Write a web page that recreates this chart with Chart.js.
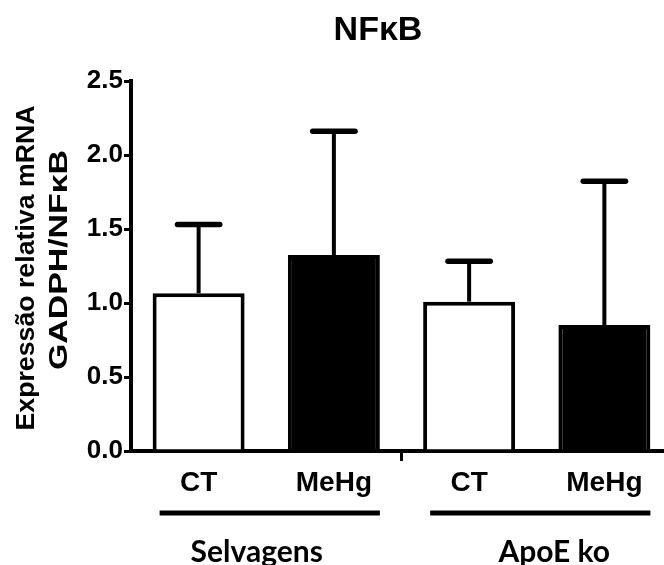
<!DOCTYPE html>
<html><head><meta charset="utf-8">
<script src="https://cdn.jsdelivr.net/npm/chart.js@4/dist/chart.umd.min.js"></script>
<style>html,body{margin:0;padding:0;background:#fff;overflow:hidden;width:664px;height:565px}canvas{display:block}</style>
</head><body>
<canvas id="c" width="680" height="565" style="width:680px;height:565px"></canvas>
<script>
const chartTitle = 'NFκB';
const categories = ['CT', 'MeHg', 'CT', 'MeHg'];
const groups = ['Selvagens', 'ApoE ko'];
const means = [1.066, 1.324, 1.009, 0.851];
const errors = [0.464, 0.837, 0.273, 0.972];
const barColors = ['#ffffff', '#000000', '#ffffff', '#000000'];
const yTicks = [0, 0.5, 1.0, 1.5, 2.0, 2.5];
const yTitle = ['Expressão relativa mRNA', 'GADPH/NFκB'];

const deco = {
  id: 'deco',
  afterDatasetsDraw(chart) {
    const ctx = chart.ctx, xs = chart.scales.x, ys = chart.scales.y, ca = chart.chartArea;
    const meta = chart.getDatasetMeta(0);
    ctx.save();
    ctx.strokeStyle = '#000';
    meta.data.forEach((bar, i) => {
      const cx = bar.x;
      const base = ys.getPixelForValue(means[i]);
      const top = ys.getPixelForValue(means[i] + errors[i]);
      ctx.lineWidth = 4; ctx.lineCap = 'butt';
      ctx.beginPath(); ctx.moveTo(cx, base); ctx.lineTo(cx, top); ctx.stroke();
      const hw = bar.width * 0.23;
      ctx.lineWidth = 5.5; ctx.lineCap = 'round';
      ctx.beginPath(); ctx.moveTo(cx - hw, top); ctx.lineTo(cx + hw, top); ctx.stroke();
    });
    const mid = (xs.getPixelForValue(1) + xs.getPixelForValue(2)) / 2;
    ctx.lineWidth = 3; ctx.lineCap = 'butt';
    ctx.beginPath(); ctx.moveTo(mid, ca.bottom); ctx.lineTo(mid, ca.bottom + 10); ctx.stroke();
    ctx.lineWidth = 5;
    ctx.fillStyle = '#000';
    ctx.font = 'bold 30px Lato';
    ctx.textAlign = 'center';
    ctx.textBaseline = 'alphabetic';
    const labelShift = [-9.5, 17.5];
    [[0, 1], [2, 3]].forEach((g, k) => {
      const a = xs.getPixelForValue(g[0]), b = xs.getPixelForValue(g[1]);
      ctx.beginPath(); ctx.moveTo(a - 39, 513); ctx.lineTo(b + 46, 513); ctx.stroke();
      ctx.fillText(groups[k], (a + b) / 2 + labelShift[k], 562);
    });
    ctx.font = 'bold 34px "Liberation Sans"';
    ctx.fillText(chartTitle, 378, 40);
    ctx.font = 'bold 25px "Liberation Sans"';
    const cy = (ca.top + ca.bottom) / 2;
    const baseX = [34, 67], lens = [325, 220], dy = [2, -6];
    yTitle.forEach((t, i) => {
      ctx.save();
      ctx.translate(baseX[i], cy + dy[i]);
      ctx.rotate(-Math.PI / 2);
      const w = ctx.measureText(t).width;
      ctx.scale(lens[i] / w, 1);
      ctx.fillText(t, 0, 0);
      ctx.restore();
    });
    ctx.restore();
  }
};

new Chart(document.getElementById('c'), {
  type: 'bar',
  data: {
    labels: categories,
    datasets: [{
      data: means,
      backgroundColor: barColors,
      borderColor: '#000',
      borderWidth: 4,
      borderSkipped: 'bottom',
      barPercentage: 0.68,
      categoryPercentage: 1
    }]
  },
  options: {
    responsive: false,
    animation: false,
    events: [],
    layout: { padding: { top: 81, right: 8, left: 0, bottom: 0 } },
    plugins: { legend: { display: false }, tooltip: { enabled: false }, title: { display: false } },
    scales: {
      x: {
        ticks: { color: '#000', font: { family: 'Liberation Sans', weight: 'bold', size: 28 }, padding: 15, maxRotation: 0 },
        grid: { display: false, drawTicks: false },
        border: { display: true, color: '#000', width: 4 },
        afterFit(s) { s.height = 114; }
      },
      y: {
        min: 0, max: 2.5,
        afterBuildTicks(s) { s.ticks = yTicks.map(v => ({ value: v })); },
        ticks: { color: '#000', font: { family: 'Liberation Sans', weight: 'bold', size: 26 }, padding: 1, callback: v => Number(v).toFixed(1) },
        grid: { display: true, drawOnChartArea: false, drawTicks: true, tickLength: 7, color: '#000', lineWidth: 3 },
        border: { display: true, color: '#000', width: 4 },
        afterFit(s) { s.width = 131; }
      }
    }
  },
  plugins: [deco]
});
</script>
</body></html>
